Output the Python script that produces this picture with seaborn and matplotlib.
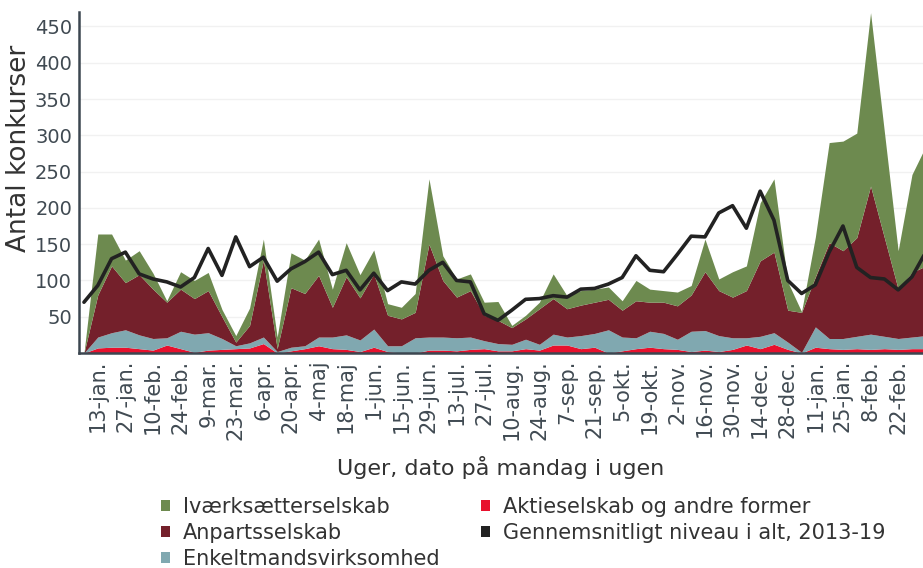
import matplotlib
matplotlib.use("Agg")
import matplotlib.pyplot as plt
from matplotlib.patches import Patch
import seaborn as sns
import numpy as np
import pandas as pd

# weekly series, week index 0 = 6-jan-2020
ivaerk = [0, 84, 44, 31, 33, 22, 2, 24, 25, 25, 10, 9, 24, 29, 16, 48, 46, 50, 25, 47,
          32, 33, 16, 16, 26, 90, 34, 25, 23, 18, 26, 3, 5, 9, 34, 18, 20, 18, 17, 13,
          28, 18, 16, 19, 13, 45, 16, 35, 34, 80, 101, 39, 1, 55, 138, 151, 144, 239, 146, 53,
          135, 165]
anparts = [0, 58, 92, 65, 83, 68, 49, 58, 49, 58, 30, 5, 24, 106, 4, 82, 72, 85, 41, 80,
           58, 76, 42, 37, 35, 128, 78, 56, 64, 35, 32, 23, 28, 49, 49, 39, 42, 43, 42, 37,
           51, 40, 43, 46, 50, 81, 62, 56, 65, 104, 111, 44, 55, 69, 132, 121, 136, 204, 136, 68,
           89, 96]
enkelt = [0, 15, 20, 24, 19, 16, 10, 24, 25, 24, 15, 4, 7, 9, 2, 5, 4, 12, 16, 20,
          16, 25, 8, 10, 21, 18, 18, 18, 17, 11, 10, 9, 13, 8, 15, 11, 18, 19, 32, 19,
          15, 22, 21, 14, 28, 27, 22, 16, 10, 17, 16, 10, 1, 28, 14, 15, 17, 21, 17, 15,
          16, 18]
aktie = [0, 7, 8, 8, 6, 4, 11, 6, 1, 4, 5, 6, 7, 13, 0, 3, 6, 10, 6, 5,
         2, 8, 2, 0, 0, 4, 4, 3, 5, 6, 3, 3, 6, 4, 11, 11, 6, 8, 0, 3,
         6, 8, 6, 5, 2, 4, 2, 5, 11, 6, 12, 5, 0, 8, 6, 5, 6, 5, 6, 5,
         6, 6]
gennemsnit = [70, 93, 130, 139, 109, 102, 98, 91, 104, 144, 107, 160, 119, 132, 99, 116, 126, 139, 108, 114,
              87, 110, 86, 98, 95, 114, 125, 100, 98, 54, 45, 59, 74, 75, 79, 77, 88, 89, 95, 104,
              134, 114, 112, 136, 161, 160, 193, 203, 172, 223, 183, 100, 82, 94, 139, 175, 118, 104, 102, 87,
              105, 139]

tick_labels = ["13-jan.", "27-jan.", "10-feb.", "24-feb.", "9-mar.", "23-mar.", "6-apr.", "20-apr.",
               "4-maj", "18-maj", "1-jun.", "15-jun.", "29-jun.", "13-jul.", "27-jul.", "10-aug.",
               "24-aug.", "7-sep.", "21-sep.", "5-okt.", "19-okt.", "2-nov.", "16-nov.", "30-nov.",
               "14-dec.", "28-dec.", "11-jan.", "25-jan.", "8-feb.", "22-feb."]
y_ticks = [50, 100, 150, 200, 250, 300, 350, 400, 450]

series_names = ["Aktieselskab og andre former", "Enkeltmandsvirksomhed", "Anpartsselskab",
                "Iværksætterselskab", "Gennemsnitligt niveau i alt, 2013-19"]
colors = {"Iværksætterselskab": "#6d8a4f", "Anpartsselskab": "#74202b",
          "Enkeltmandsvirksomhed": "#80a8b0", "Aktieselskab og andre former": "#e8112d",
          "Gennemsnitligt niveau i alt, 2013-19": "#222222"}

sns.set_theme(style="white")
plt.rcParams["font.family"] = ["DejaVu Sans"]

weeks = np.arange(len(ivaerk))
df = pd.DataFrame({"uge": weeks, "snit": gennemsnit})

fig = plt.figure(figsize=(9.23, 5.68), dpi=100)
ax = fig.add_axes([0.0856, 0.3785, 0.9144, 0.6005])

ax.stackplot(weeks, aktie, enkelt, anparts, ivaerk,
             colors=[colors[n] for n in series_names[:4]], linewidth=0)
sns.lineplot(data=df, x="uge", y="snit", ax=ax, color=colors[series_names[4]],
             linewidth=2.6, legend=False)

ax.set_xlim(-0.36, 60.8)
ax.set_ylim(0, 470)
ax.set_yticks(y_ticks)
ax.set_yticklabels([str(v) for v in y_ticks], fontsize=14, color="#404a52")
ax.set_xticks(weeks[1:60:2])
ax.set_xticklabels(tick_labels, rotation=90, fontsize=15, color="#404a52")
ax.tick_params(axis="both", length=0, pad=5)
ax.grid(axis="y", color="#f1f1f1", linewidth=1)
ax.set_axisbelow(True)

for s in ["top", "right"]:
    ax.spines[s].set_visible(False)
for s in ["left", "bottom"]:
    ax.spines[s].set_color("#3c4650")
    ax.spines[s].set_linewidth(1.8)

ax.set_ylabel("Antal konkurser", fontsize=19, color="#333333")
ax.yaxis.set_label_coords(-0.056, 0.60)
ax.set_xlabel("Uger, dato på mandag i ugen", fontsize=16, color="#333333", labelpad=11)

legend_order = ["Iværksætterselskab", "Anpartsselskab", "Enkeltmandsvirksomhed",
                "Aktieselskab og andre former", "Gennemsnitligt niveau i alt, 2013-19"]
handles = [Patch(facecolor=colors[n], edgecolor="none", label=n) for n in legend_order]
fig.legend(handles=handles, ncol=2, loc="upper left", bbox_to_anchor=(0.165, 0.14),
           frameon=False, fontsize=15, handlelength=0.45, handleheight=0.45,
           handletextpad=0.6, columnspacing=2.0, labelspacing=0.3, labelcolor="#333333",
           borderaxespad=0)

fig.savefig("out.png", dpi=100)
